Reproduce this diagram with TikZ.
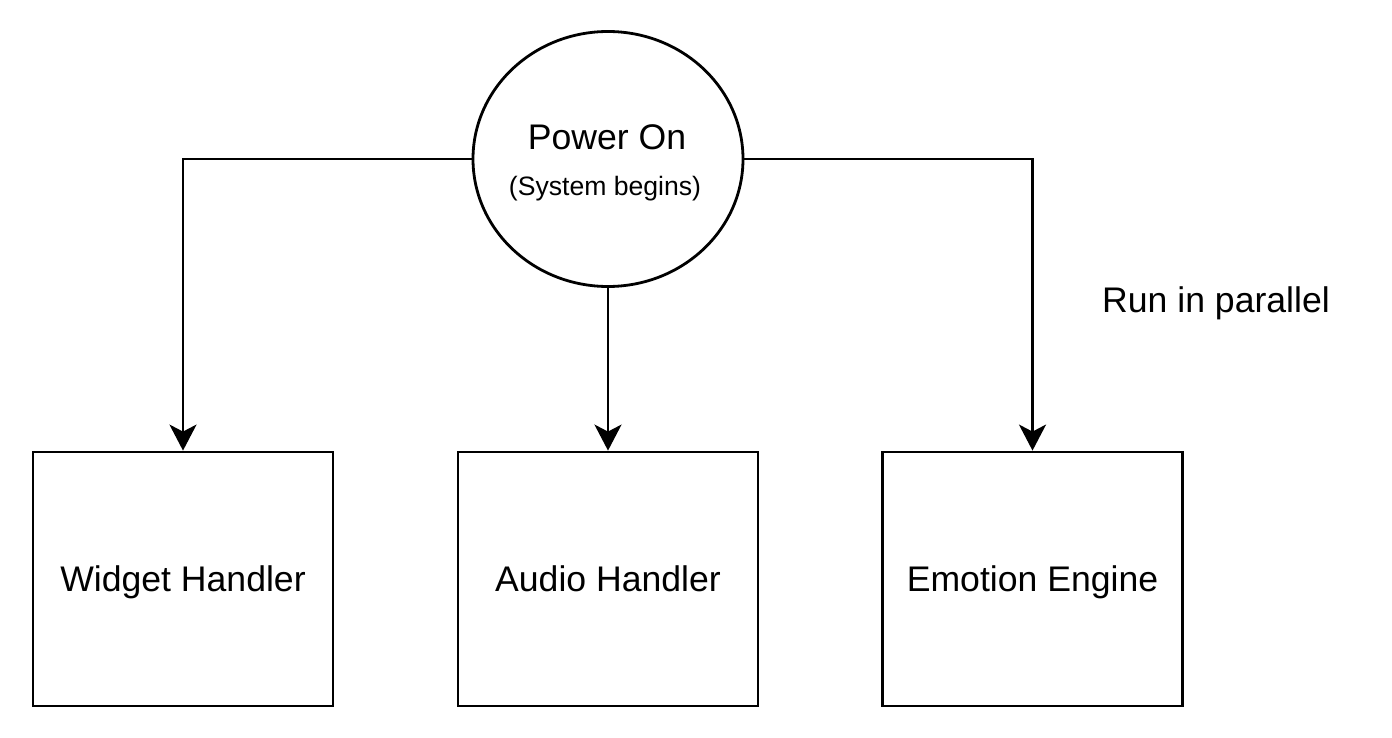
\documentclass[tikz,border=0pt]{standalone}
\usepackage{fontspec}
\setmainfont{Liberation Sans}
\usetikzlibrary{shapes.geometric,arrows.meta}
\begin{document}
\begin{tikzpicture}[x=1pt,y=-1pt,
  boxst/.style={draw,line width=2.8pt,rectangle,minimum width=300pt,minimum height=254pt,inner sep=0pt,text height=25.6pt,text depth=0pt,font=\fontsize{35.6}{40}\selectfont},
  ellst/.style={draw,line width=2.8pt,ellipse,minimum width=270pt,minimum height=255pt,inner sep=0pt},
  bigtxt/.style={inner sep=0pt,text height=25.6pt,text depth=0pt,font=\fontsize{35.6}{40}\selectfont},
  smalltxt/.style={inner sep=0pt,text height=19.1pt,text depth=0pt,font=\fontsize{26.6}{30}\selectfont},
  arr/.style={line width=2.8pt,-{Stealth[length=26pt,width=27pt,inset=7pt]}}
]
\useasboundingbox (0,0) rectangle (1392,738);
\fill[white] (0,0) rectangle (1392,738);
\node[ellst] (pw) at (608,159) {};
\node[bigtxt] (pwt) at (607,137) {Power On};
\node[smalltxt] (pws) at (605,185.5) {(System begins)};
\node[boxst] (wh) at (183,579) {Widget Handler};
\node[boxst] (ah) at (608,579) {Audio Handler};
\node[boxst] (ee) at (1032.5,579) {Emotion Engine};
\node[bigtxt] (rp) at (1216,300) {Run in parallel};
\draw[arr] (pw.west) -| (wh.north);
\draw[arr] (pw.east) -| (ee.north);
\draw[arr] (pw.south) -- (ah.north);
\end{tikzpicture}
\end{document}
